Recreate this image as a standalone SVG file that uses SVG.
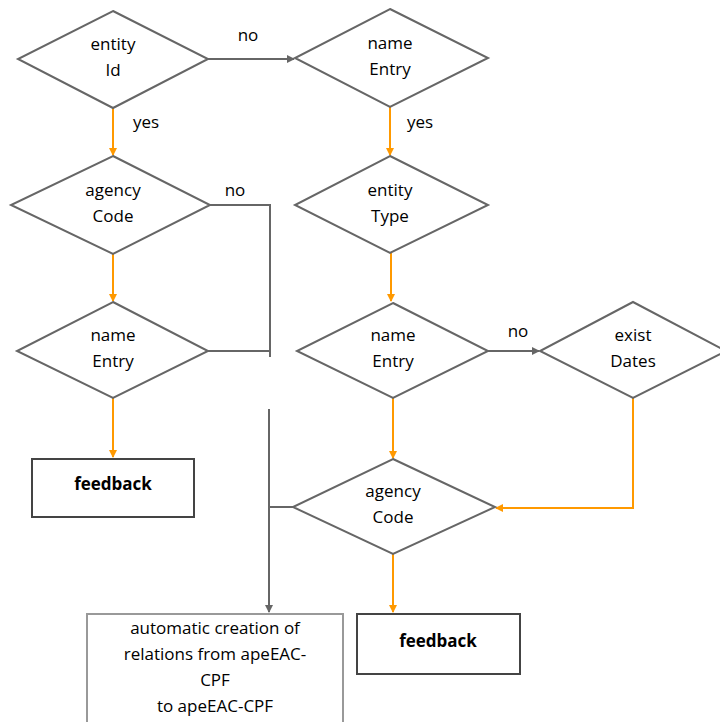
<svg xmlns="http://www.w3.org/2000/svg" width="720" height="722" viewBox="0 0 720 722">
<defs>
<marker id="ag" markerWidth="8" markerHeight="8" refX="7" refY="4" orient="auto" markerUnits="userSpaceOnUse"><path d="M0,0 L8,4 L0,8 Z" fill="#666"/></marker>
<marker id="ao" markerWidth="8" markerHeight="8" refX="7" refY="4" orient="auto" markerUnits="userSpaceOnUse"><path d="M0,0 L8,4 L0,8 Z" fill="#f90"/></marker>
</defs>
<style>
.d{fill:#fff;stroke:#666;stroke-width:2}
.b{fill:#fff;stroke:#444;stroke-width:2}
.b2{fill:#fff;stroke:#999;stroke-width:2}
.t{font-family:"Open Sans","Liberation Sans",sans-serif;font-size:17px;fill:#000;text-anchor:middle}
.tb{font-family:"Open Sans","Liberation Sans",sans-serif;font-size:17px;font-weight:bold;fill:#000;text-anchor:middle}
.g{fill:none;stroke:#666;stroke-width:2}
.o{fill:none;stroke:#f90;stroke-width:2}
</style>
<rect width="720" height="722" fill="#fff"/>
<g id="connectors">
<path class="g" d="M208,59 H294" marker-end="url(#ag)"/>
<path class="o" d="M113,108 V155" marker-end="url(#ao)"/>
<path class="o" d="M390,107 V155" marker-end="url(#ao)"/>
<path class="g" d="M209,205 H270 V357"/>
<path class="g" d="M208,351 H270"/>
<path class="o" d="M113,254 V301" marker-end="url(#ao)"/>
<path class="o" d="M113,398 V457" marker-end="url(#ao)"/>
<path class="o" d="M391,253 V301" marker-end="url(#ao)"/>
<path class="g" d="M488,351 H539" marker-end="url(#ag)"/>
<path class="o" d="M393,398 V458" marker-end="url(#ao)"/>
<path class="o" d="M633,398 V508 H496" marker-end="url(#ao)"/>
<path class="g" d="M269,409 V612" marker-end="url(#ag)"/>
<path class="g" d="M269,507 H293"/>
<path class="o" d="M393,554 V612" marker-end="url(#ao)"/>
<text class="t" x="248" y="41">no</text>
<text class="t" x="146" y="128">yes</text>
<text class="t" x="420" y="128">yes</text>
<text class="t" x="235" y="196">no</text>
<text class="t" x="518" y="337">no</text>
</g>
<g id="entityId"><path class="d" d="M113,11 L208,59 L113,108 L18,59 Z"/><text class="t" x="113" y="50">entity</text><text class="t" x="113" y="76">Id</text></g>
<g id="nameEntry1"><path class="d" d="M390,9 L488,58 L390,107 L295,58 Z"/><text class="t" x="390" y="49">name</text><text class="t" x="390" y="75">Entry</text></g>
<g id="agencyCode1"><path class="d" d="M113,156 L210,205 L113,254 L11,205 Z"/><text class="t" x="113" y="196">agency</text><text class="t" x="113" y="222">Code</text></g>
<g id="entityType"><path class="d" d="M390,156 L488,205 L390,253 L295,205 Z"/><text class="t" x="390" y="196">entity</text><text class="t" x="390" y="222">Type</text></g>
<g id="nameEntry2"><path class="d" d="M113,302 L208,351 L113,398 L17,351 Z"/><text class="t" x="113" y="341">name</text><text class="t" x="113" y="367">Entry</text></g>
<g id="nameEntry3"><path class="d" d="M393,303 L488,351 L393,398 L297,351 Z"/><text class="t" x="393" y="341">name</text><text class="t" x="393" y="367">Entry</text></g>
<g id="existDates"><path class="d" d="M633,302 L726,351 L633,398 L540,351 Z"/><text class="t" x="633" y="341">exist</text><text class="t" x="633" y="367">Dates</text></g>
<g id="agencyCode2"><path class="d" d="M393,459 L495,507 L393,554 L293,507 Z"/><text class="t" x="393" y="497">agency</text><text class="t" x="393" y="523">Code</text></g>
<g id="feedback1"><rect class="b" x="32" y="459" width="162" height="58"/><text class="tb" x="113" y="490">feedback</text></g>
<g id="feedback2"><rect class="b" x="357" y="614" width="163" height="60"/><text class="tb" x="438" y="647">feedback</text></g>
<g id="automatic"><rect class="b2" x="87" y="614" width="256" height="120"/><text class="t" x="215" y="634">automatic creation of</text><text class="t" x="215" y="660">relations from apeEAC-</text><text class="t" x="215" y="686">CPF</text><text class="t" x="215" y="712">to apeEAC-CPF</text></g>
</svg>
